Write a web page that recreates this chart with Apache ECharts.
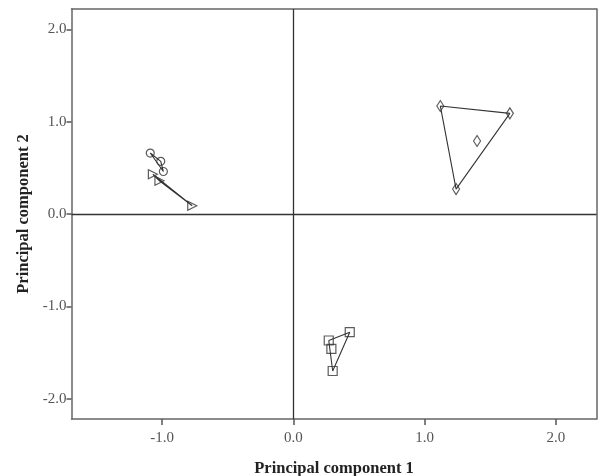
<!DOCTYPE html>
<html><head><meta charset="utf-8">
<script src="https://cdn.jsdelivr.net/npm/echarts@6/dist/echarts.min.js"></script>
<style>html,body{margin:0;padding:0;background:#fff}#c{width:598px;height:476px}</style>
</head><body><div id="c"></div>
<script>
// Group scores (PC1, PC2)
const circles   = [[-1.09, 0.66], [-1.01, 0.57], [-0.99, 0.46]];
const triangles = [[-1.07, 0.43], [-1.02, 0.36], [-0.77, 0.09]];
const diamonds  = [[1.12, 1.17], [1.65, 1.09], [1.24, 0.27], [1.40, 0.79]];
const squares   = [[0.27, -1.37], [0.43, -1.28], [0.29, -1.46], [0.30, -1.70]];
const xTicks = [-1, 0, 1, 2];
const yTicks = [-2, -1, 0, 1, 2];
const xRange = [-1.69, 2.31];
const yRange = [-2.22, 2.22];

function hull(pts){
  const p = pts.slice().sort((a,b)=>a[0]-b[0]||a[1]-b[1]);
  const cr=(o,a,b)=>(a[0]-o[0])*(b[1]-o[1])-(a[1]-o[1])*(b[0]-o[0]);
  const lo=[],up=[];
  for(const q of p){while(lo.length>=2&&cr(lo[lo.length-2],lo[lo.length-1],q)<=0)lo.pop();lo.push(q);}
  for(let i=p.length-1;i>=0;i--){const q=p[i];while(up.length>=2&&cr(up[up.length-2],up[up.length-1],q)<=0)up.pop();up.push(q);}
  const h=lo.slice(0,-1).concat(up.slice(0,-1));
  h.push(h[0]);
  return h;
}

const ink = '#333';
const font = 'Liberation Serif, Times New Roman, serif';
const groups = [
  {d: circles, sym: 'circle', size: 8, rot: 0},
  {d: triangles, sym: 'triangle', size: 9, rot: -90},
  {d: diamonds, sym: 'diamond', size: [7,11], rot: 0},
  {d: squares, sym: 'rect', size: 9, rot: 0}
];
const series = [];
groups.forEach(g=>{
  series.push({type:'line', data: hull(g.d), symbol:'none', silent:true,
    lineStyle:{color:ink, width:1.1}, z:2});
});
groups.forEach(g=>{
  series.push({type:'scatter', data:g.d, symbol:g.sym, symbolSize:g.size, symbolRotate:g.rot,
    itemStyle:{color:'rgba(255,255,255,0)', borderColor:ink, borderWidth:1.2}, z:3});
});
series.push({type:'line', data:[], markLine:{silent:true, symbol:'none', label:{show:false},
  lineStyle:{color:ink, width:1.3, type:'solid'}, data:[{xAxis:0},{yAxis:0}]}});

const border = {show:true, onZero:false, lineStyle:{color:'#666', width:1.5}};
const chart = echarts.init(document.getElementById('c'));
chart.setOption({
  animation:false,
  grid:{left:71.5, right:1.5, top:9, bottom:57, outerBoundsMode:'none', containLabel:false},
  xAxis:[{type:'value', min:xRange[0], max:xRange[1],
    name:'Principal component 1', nameLocation:'middle', nameGap:41,
    nameTextStyle:{fontFamily:font, fontWeight:'bold', fontSize:16.5, color:'#222'},
    axisLine:border,
    axisTick:{show:true, length:6, customValues:xTicks, lineStyle:{color:'#555', width:1.5}},
    axisLabel:{customValues:xTicks, formatter:v=>v.toFixed(1), fontFamily:font, fontSize:15, color:'#555', margin:12},
    splitLine:{show:false}},
   {type:'value', position:'top', min:xRange[0], max:xRange[1], axisLine:border,
    axisTick:{show:false}, axisLabel:{show:false}, splitLine:{show:false}}],
  yAxis:[{type:'value', min:yRange[0], max:yRange[1],
    name:'Principal component 2', nameLocation:'middle', nameGap:39, nameMoveOverlap:false,
    nameTextStyle:{fontFamily:font, fontWeight:'bold', fontSize:16.5, color:'#222'},
    axisLine:border,
    axisTick:{show:true, length:5, customValues:yTicks, lineStyle:{color:'#555', width:1.5}},
    axisLabel:{customValues:yTicks, formatter:v=>v.toFixed(1), fontFamily:font, fontSize:15, color:'#555', margin:5},
    splitLine:{show:false}},
   {type:'value', position:'right', min:yRange[0], max:yRange[1], axisLine:border,
    axisTick:{show:false}, axisLabel:{show:false}, splitLine:{show:false}}],
  series: series
});
</script></body></html>
